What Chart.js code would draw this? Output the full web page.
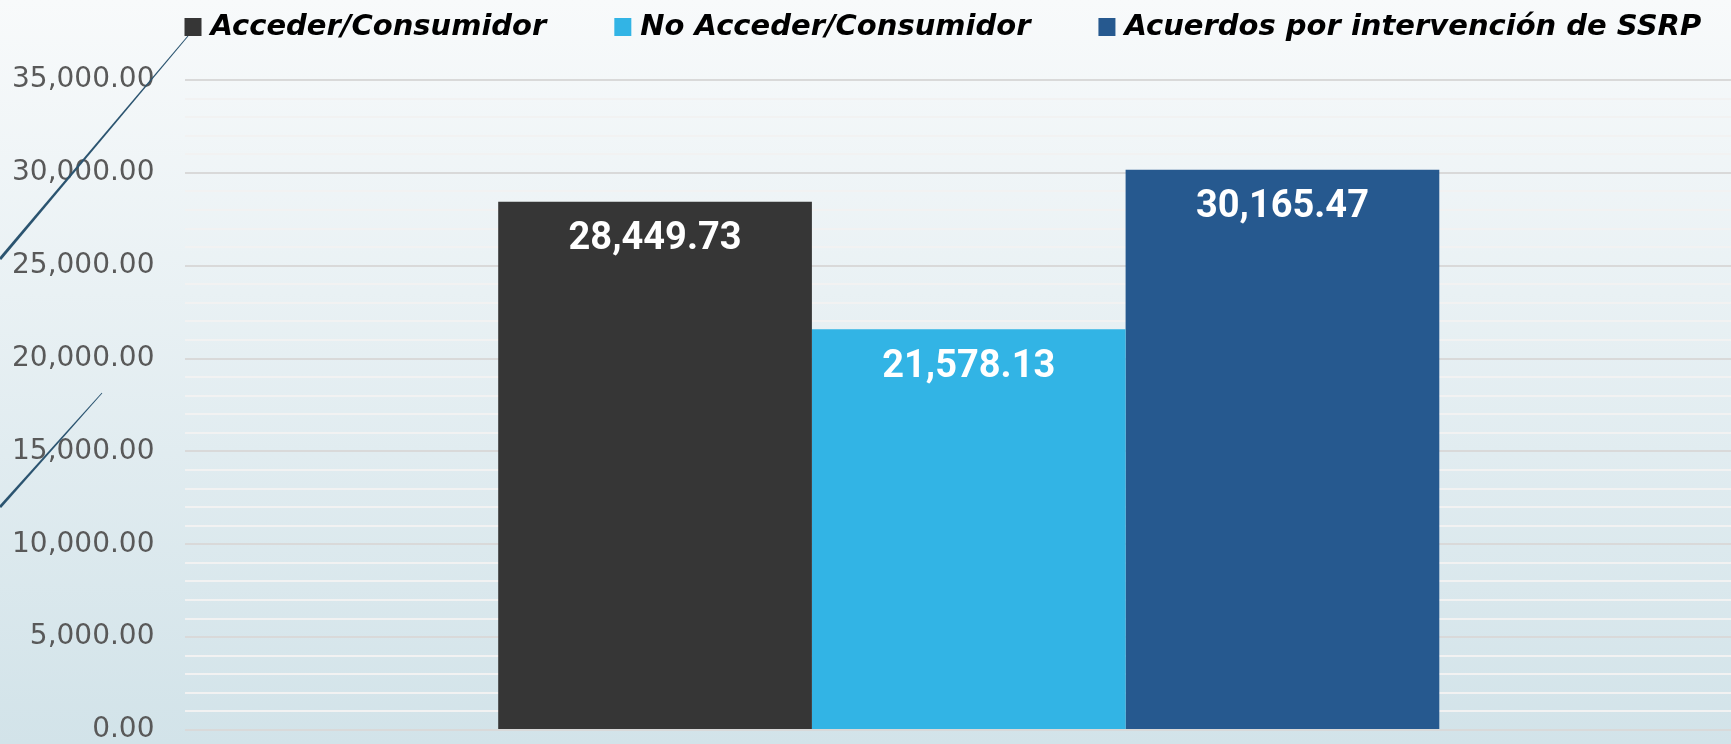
<!DOCTYPE html>
<html>
<head>
<meta charset="utf-8">
<script src="https://cdn.jsdelivr.net/npm/chart.js@4.4.0/dist/chart.umd.min.js"></script>
<style>
  html, body { margin: 0; padding: 0; overflow: hidden; }
  body {
    width: 1731px;
    height: 744px;
    background: linear-gradient(to bottom, #f8fafb 0%, #d2e3e9 100%);
  }
  #wrap { width: 1753px; height: 744px; }
  canvas { display: block; }
</style>
</head>
<body>
<div id="wrap"><canvas id="chart" width="1753" height="744"></canvas></div>
<script>
const categories = [""];
const seriesNames = ["Acceder/Consumidor", "No Acceder/Consumidor", "Acuerdos por intervención de SSRP"];
const accederValues = [28449.73];
const noAccederValues = [21578.13];
const acuerdosValues = [30165.47];
const seriesColors = ["#363636", "#32b4e5", "#26598f"];
const yTickLabels = [0, 5000, 10000, 15000, 20000, 25000, 30000, 35000];

const fmt = (v) =>
  v.toLocaleString("en-US", { minimumFractionDigits: 2, maximumFractionDigits: 2 });

// value labels inside the top of each bar
const barValues = {
  id: "barValues",
  afterDatasetsDraw(chart) {
    const { ctx } = chart;
    ctx.save();
    ctx.font = "bold 38px Roboto";
    ctx.fillStyle = "#fff";
    ctx.textAlign = "center";
    ctx.textBaseline = "middle";
    chart.data.datasets.forEach((ds, i) => {
      chart.getDatasetMeta(i).data.forEach((bar, j) => {
        ctx.fillText(fmt(ds.data[j]), bar.x, bar.y + 38);
      });
    });
    ctx.restore();
  },
};

// legend row, left aligned with the plot area
const topLegend = {
  id: "topLegend",
  afterDraw(chart) {
    const { ctx, chartArea } = chart;
    ctx.save();
    ctx.font = "italic bold 29px 'DejaVu Sans'";
    ctx.textBaseline = "middle";
    ctx.textAlign = "left";
    let x = chartArea.left;
    const y = 27;
    chart.data.datasets.forEach((ds) => {
      ctx.fillStyle = ds.backgroundColor;
      ctx.fillRect(x, y - 9, 17, 18);
      ctx.fillStyle = "#000";
      ctx.fillText(ds.label, x + 26, y);
      x += 26 + ctx.measureText(ds.label).width + 68;
    });
    ctx.restore();
  },
};

// thin tapered diagonal strokes on the left edge
function strip(ctx, x1, y1, x2, y2, w1, w2) {
  const len = Math.hypot(x2 - x1, y2 - y1);
  const nx = -(y2 - y1) / len;
  const ny = (x2 - x1) / len;
  ctx.beginPath();
  ctx.moveTo(x1 + nx * w1 / 2, y1 + ny * w1 / 2);
  ctx.lineTo(x2 + nx * w2 / 2, y2 + ny * w2 / 2);
  ctx.lineTo(x2 - nx * w2 / 2, y2 - ny * w2 / 2);
  ctx.lineTo(x1 - nx * w1 / 2, y1 - ny * w1 / 2);
  ctx.closePath();
  ctx.fill();
}

const sideLines = {
  id: "sideLines",
  afterDraw(chart) {
    const { ctx } = chart;
    ctx.save();
    ctx.fillStyle = "#2b5470";
    strip(ctx, 0, 259, 188, 36, 3, 1);
    strip(ctx, 0, 507, 102, 393, 2.8, 0.9);
    ctx.restore();
  },
};

const config = {
  type: "bar",
  data: {
    labels: categories,
    datasets: [
      { label: seriesNames[0], data: accederValues, backgroundColor: seriesColors[0] },
      { label: seriesNames[1], data: noAccederValues, backgroundColor: seriesColors[1] },
      { label: seriesNames[2], data: acuerdosValues, backgroundColor: seriesColors[2] },
    ].map((d) => ({ ...d, barPercentage: 1, categoryPercentage: 0.6, borderWidth: 0 })),
  },
  options: {
    responsive: false,
    animation: false,
    layout: { padding: { top: 80, left: -18, right: 0, bottom: 14 } },
    scales: {
      x: {
        display: true,
        ticks: { display: false },
        grid: { display: false, drawTicks: false },
        border: { display: false },
      },
      y: {
        min: 0,
        max: 35000,
        border: { display: false },
        // tick padding would otherwise also pad the axis vertically
        afterFit: (scale) => {
          scale.paddingTop = 0;
          scale.paddingBottom = 0;
        },
        grid: {
          drawTicks: false,
          lineWidth: 2,
          color: (c) => (yTickLabels.includes(c.tick.value) ? "#d9d9d9" : "#f2f2f2"),
        },
        ticks: {
          stepSize: 1000,
          autoSkip: false,
          padding: 30,
          color: "#595959",
          font: { family: "'DejaVu Sans'", size: 28, lineHeight: 0.9 },
          callback: (v) => (yTickLabels.includes(v) ? fmt(v) : ""),
        },
      },
    },
    plugins: {
      legend: { display: false },
      tooltip: { enabled: false },
    },
  },
  plugins: [barValues, topLegend, sideLines],
};

const chart = new Chart(document.getElementById("chart"), config);
</script>
</body>
</html>
